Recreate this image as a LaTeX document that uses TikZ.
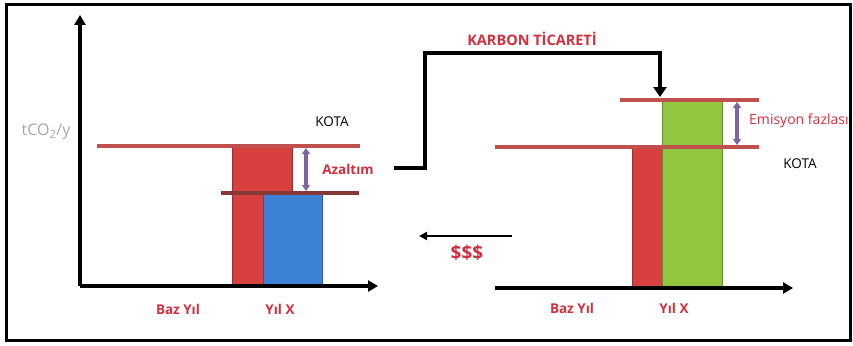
\documentclass[tikz,border=0pt]{standalone}
\usepackage{fontspec}
\setmainfont{Open Sans}
\usetikzlibrary{arrows.meta}
\definecolor{barred}{HTML}{D8403F}
\definecolor{barblue}{HTML}{3C82D6}
\definecolor{bargreen}{HTML}{93C63F}
\definecolor{linered}{HTML}{C0504D}
\definecolor{txtred}{HTML}{D22F3C}
\definecolor{arrpurple}{HTML}{8064A2}
\begin{document}
\begin{tikzpicture}[x=1pt,y=-1pt,
  axis/.style={line width=3.4pt,-{Triangle[length=10pt,width=11pt]}},
  levelline/.style={linered,line width=3.4pt},
  lowline/.style={draw=linered!70!black,line width=3.4pt},
  bar/.style={line width=0.8pt},
  dbl/.style={arrpurple,line width=3.4pt,{Triangle[length=6pt,width=8pt]}-{Triangle[length=6pt,width=8pt]}},
  redlbl/.style={text=txtred,font=\bfseries\fontsize{13.5}{15}\selectfont,inner sep=0pt},
  blacklbl/.style={text=black,font=\fontsize{13.5}{15}\selectfont,inner sep=0pt},
  flow/.style={line width=4.5pt,-{Triangle[length=10pt,width=13pt]}}]
\useasboundingbox (0,0) rectangle (853,345);
\draw[line width=3pt] (6,5) rectangle (850,340);
% ---------- left chart ----------
\fill[barred] (232,146) rectangle (292,286);
\draw[barred!70!black,bar] (232,146) rectangle (292,286);
\fill[barblue] (263,193) rectangle (322,286);
\draw[barblue!70!black,bar] (263,193) rectangle (322,286);
\draw[levelline] (97,146) -- (360,146);
\draw[lowline] (221,193) -- (359,193);
\coordinate (lo) at (80,286);
\coordinate (ly) at (80,15);
\coordinate (lx) at (378,286);
\draw[axis] (lo) -- (ly);
\draw[axis] (lo) -- (lx);
\coordinate (la1) at (306,148);
\coordinate (la2) at (306,191);
\draw[dbl] (la1) -- (la2);
\node[text=gray!70,font=\fontsize{16}{18}\selectfont,inner sep=0pt] (ylab) at (46,132) {tCO\textsubscript{2}/y};
\node[blacklbl] (kota1) at (332,122) {KOTA};
\node[redlbl] (azal) at (348,169) {Azaltım};
\node[redlbl] (baz1) at (178,309) {Baz Yıl};
\node[redlbl] (yil1) at (280,309) {Yıl X};
% ---------- right chart ----------
\fill[barred] (632,147) rectangle (662,286);
\draw[barred!70!black,bar] (632,147) rectangle (662,286);
\fill[bargreen] (662,100) rectangle (722,286);
\draw[bargreen!70!black,bar] (662,100) rectangle (722,286);
\draw[levelline] (620,100) -- (759,100);
\draw[levelline] (495,147) -- (759,147);
\coordinate (ro) at (495,288);
\coordinate (rx) at (793,288);
\draw[axis] (ro) -- (rx);
\coordinate (ra1) at (737,102);
\coordinate (ra2) at (737,145);
\draw[dbl] (ra1) -- (ra2);
\node[text=txtred,font=\fontsize{14}{16}\selectfont,inner sep=0pt,anchor=west] (emis) at (749,121) {Emisyon fazlası};
\node[blacklbl] (kota2) at (800,164) {KOTA};
\node[redlbl] (baz2) at (572,308) {Baz Yıl};
\node[redlbl] (yil2) at (674,308) {Yıl X};
% ---------- trade ----------
\coordinate (t0) at (394,168);
\coordinate (t1) at (425,168);
\coordinate (t2) at (425,53);
\coordinate (t3) at (660,53);
\coordinate (t4) at (660,97);
\draw[flow] (t0) -- (t1) -- (t2) -- (t3) -- (t4);
\node[redlbl,font=\bfseries\fontsize{14.5}{16}\selectfont] (karbon) at (532,39) {KARBON TİCARETİ};
\coordinate (m0) at (512,236);
\coordinate (m1) at (419,236);
\draw[line width=2.4pt,-{Triangle[length=8pt,width=8pt]}] (m0) -- (m1);
\node[redlbl,font=\bfseries\fontsize{19}{21}\selectfont] (dollar) at (467,253) {\$\$\$};
\end{tikzpicture}
\end{document}
